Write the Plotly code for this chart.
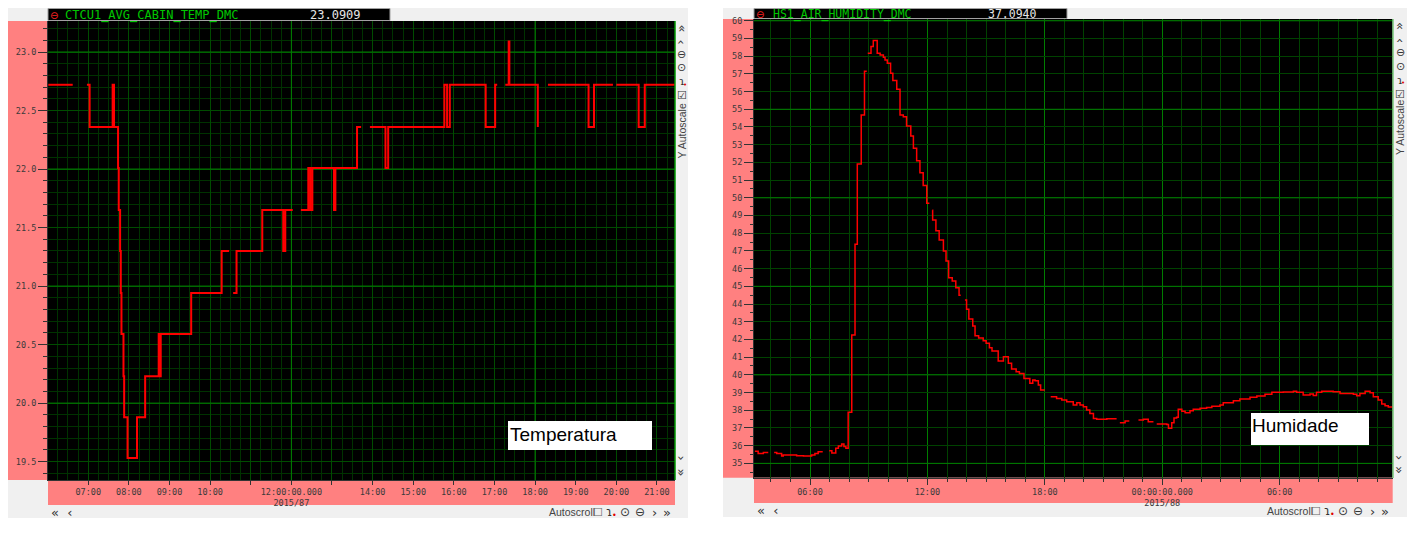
import plotly.graph_objects as go

OFF = 8                      # browser body margin
W, H = 1404, 522             # figure size so the page fits the 1420x538 window
def fx(p): return (p - OFF) / W
def fy(p): return 1 - (p - OFF) / H

# ------------------------------------------------------------------ data
temp_label, temp_current = "CTCU1_AVG_CABIN_TEMP_DMC", "23.0909"
hum_label, hum_current = "HS1_AIR_HUMIDITY_DMC", "37.0940"

temp_day = "2015-03-28 "
temp_time = ["06:01", "06:37", "06:37", "06:58", "07:02", "07:36", "07:38", "07:44", "07:45",
             "07:47", "07:48", "07:49", "07:52", "07:53", "07:58", "08:12", "08:24", "08:44",
             "08:46", "08:47", "09:32", "10:17", "10:28", "10:28", "10:34", "10:39", "11:17",
             "11:48", "11:51", "12:02", "12:02", "12:14", "12:25", "12:28", "12:31", "13:03",
             "13:05", "13:37", "13:43", "13:43", "13:56", "14:19", "14:23", "15:46", "15:50",
             "15:54", "16:47", "17:01", "17:04", "17:04", "17:16", "17:21", "17:22", "18:04",
             "18:04", "18:19", "19:19", "19:27", "19:55", "19:55", "20:00", "20:33", "20:42",
             "21:27"]
temp_value = [22.72, 22.72, None, 22.72, 22.36, 22.72, 22.36, 22.01, 21.65,
              21.30, 20.94, 20.59, 20.23, 19.88, 19.53, 19.88, 20.23, 20.59,
              20.23, 20.59, 20.94, 21.30, 21.30, None, 20.94, 21.30, 21.65,
              21.30, 21.65, 21.65, None, 21.65, 22.01, 21.65, 22.01, 21.65,
              22.01, 22.36, 22.36, None, 22.36, 22.01, 22.36, 22.72, 22.36,
              22.72, 22.36, 22.72, 22.72, None, 22.72, 23.09, 22.72, 22.36,
              None, 22.72, 22.36, 22.72, 22.72, None, 22.72, 22.36, 22.72,
              22.72]

hum_time = [
    "2015-03-28 03:11", "2015-03-28 03:21", "2015-03-28 03:37", "2015-03-28 03:52", "2015-03-28 03:52",
    "2015-03-28 04:10", "2015-03-28 04:18", "2015-03-28 04:33", "2015-03-28 04:38", "2015-03-28 05:19",
    "2015-03-28 05:40", "2015-03-28 06:05", "2015-03-28 06:15", "2015-03-28 06:25", "2015-03-28 06:39",
    "2015-03-28 06:39", "2015-03-28 06:59", "2015-03-28 07:07", "2015-03-28 07:19", "2015-03-28 07:27",
    "2015-03-28 07:37", "2015-03-28 07:44", "2015-03-28 07:50", "2015-03-28 07:57", "2015-03-28 08:08",
    "2015-03-28 08:18", "2015-03-28 08:25", "2015-03-28 08:37", "2015-03-28 08:47", "2015-03-28 08:54",
    "2015-03-28 08:54", "2015-03-28 08:57", "2015-03-28 09:07", "2015-03-28 09:14", "2015-03-28 09:26",
    "2015-03-28 09:35", "2015-03-28 09:45", "2015-03-28 09:50", "2015-03-28 09:57", "2015-03-28 10:07",
    "2015-03-28 10:14", "2015-03-28 10:26", "2015-03-28 10:36", "2015-03-28 10:46", "2015-03-28 10:56",
    "2015-03-28 11:09", "2015-03-28 11:17", "2015-03-28 11:27", "2015-03-28 11:37", "2015-03-28 11:47",
    "2015-03-28 11:58", "2015-03-28 12:06", "2015-03-28 12:06", "2015-03-28 12:15", "2015-03-28 12:16",
    "2015-03-28 12:26", "2015-03-28 12:36", "2015-03-28 12:49", "2015-03-28 12:57", "2015-03-28 13:05",
    "2015-03-28 13:16", "2015-03-28 13:27", "2015-03-28 13:37", "2015-03-28 13:42", "2015-03-28 13:42",
    "2015-03-28 13:55", "2015-03-28 14:00", "2015-03-28 14:07", "2015-03-28 14:19", "2015-03-28 14:26",
    "2015-03-28 14:37", "2015-03-28 14:51", "2015-03-28 15:00", "2015-03-28 15:10", "2015-03-28 15:18",
    "2015-03-28 15:37", "2015-03-28 15:53", "2015-03-28 16:08", "2015-03-28 16:18", "2015-03-28 16:32",
    "2015-03-28 16:42", "2015-03-28 16:56", "2015-03-28 17:14", "2015-03-28 17:23", "2015-03-28 17:30",
    "2015-03-28 17:40", "2015-03-28 17:47", "2015-03-28 18:00", "2015-03-28 18:00", "2015-03-28 18:18",
    "2015-03-28 18:36", "2015-03-28 18:52", "2015-03-28 19:07", "2015-03-28 19:27", "2015-03-28 19:38",
    "2015-03-28 19:48", "2015-03-28 19:58", "2015-03-28 20:08", "2015-03-28 20:18", "2015-03-28 20:29",
    "2015-03-28 20:39", "2015-03-28 21:10", "2015-03-28 21:40", "2015-03-28 21:40", "2015-03-28 21:50",
    "2015-03-28 22:06", "2015-03-28 22:19", "2015-03-28 22:19", "2015-03-28 22:47", "2015-03-28 23:02",
    "2015-03-28 23:17", "2015-03-28 23:33", "2015-03-28 23:33", "2015-03-28 23:43", "2015-03-29 00:14",
    "2015-03-29 00:19", "2015-03-29 00:29", "2015-03-29 00:36", "2015-03-29 00:44", "2015-03-29 00:49",
    "2015-03-29 01:00", "2015-03-29 01:10", "2015-03-29 01:25", "2015-03-29 01:35", "2015-03-29 01:56",
    "2015-03-29 02:16", "2015-03-29 02:32", "2015-03-29 02:57", "2015-03-29 03:07", "2015-03-29 03:38",
    "2015-03-29 03:58", "2015-03-29 04:29", "2015-03-29 04:50", "2015-03-29 05:15", "2015-03-29 05:36",
    "2015-03-29 06:11", "2015-03-29 06:42", "2015-03-29 06:52", "2015-03-29 07:12", "2015-03-29 07:33",
    "2015-03-29 07:43", "2015-03-29 07:53", "2015-03-29 08:09", "2015-03-29 08:44", "2015-03-29 09:05",
    "2015-03-29 09:46", "2015-03-29 09:56", "2015-03-29 10:06", "2015-03-29 10:22", "2015-03-29 10:37",
    "2015-03-29 10:47", "2015-03-29 11:02", "2015-03-29 11:13", "2015-03-29 11:23", "2015-03-29 11:33",
    "2015-03-29 11:47"]
hum_value = [
    35.69, 35.56, 35.62, 35.62, None,
    35.62, 35.56, 35.41, 35.47, 35.43,
    35.41, 35.47, 35.55, 35.66, 35.66,
    None, 35.71, 35.58, 35.85, 35.98,
    36.09, 35.95, 35.85, 37.88, 42.25,
    47.37, 51.91, 54.68, 57.15, 57.15,
    None, 58.16, 58.54, 58.88, 58.16,
    58.07, 57.94, 57.79, 57.60, 57.03,
    56.62, 56.13, 54.68, 54.58, 54.06,
    53.49, 52.80, 52.10, 51.42, 50.70,
    49.69, 49.69, None, 49.30, 48.75,
    48.14, 47.62, 47.00, 46.43, 45.49,
    45.30, 44.92, 44.50, 44.50, None,
    44.23, 43.70, 43.15, 42.76, 42.21,
    42.08, 41.93, 41.78, 41.53, 41.35,
    40.78, 41.02, 40.65, 40.33, 40.18,
    40.08, 39.80, 39.52, 39.71, 39.67,
    39.42, 39.14, 39.14, None, 38.76,
    38.67, 38.58, 38.48, 38.29, 38.43,
    38.29, 38.20, 38.01, 37.82, 37.54,
    37.49, 37.52, 37.52, None, 37.30,
    37.39, 37.39, None, 37.45, 37.49,
    37.35, 37.35, None, 37.22, 37.20,
    36.98, 37.30, 37.56, 37.60, 38.05,
    37.95, 37.86, 37.97, 38.05, 38.11,
    38.16, 38.22, 38.30, 38.43, 38.54,
    38.63, 38.73, 38.80, 38.90, 39.01,
    39.03, 39.08, 39.01, 38.86, 38.92,
    38.84, 39.01, 39.08, 39.05, 38.95,
    38.90, 38.82, 38.95, 39.08, 38.99,
    38.76, 38.58, 38.35, 38.25, 38.18,
    38.18]

temp_xticks = ["07:00", "08:00", "09:00", "10:00", "11:00", "12:00", "13:00", "14:00",
               "15:00", "16:00", "17:00", "18:00", "19:00", "20:00", "21:00"]
temp_xticktext = ["07:00", "08:00", "09:00", "10:00", "", "12:00:00.000<br>2015/87", "", "14:00",
                  "15:00", "16:00", "17:00", "18:00", "19:00", "20:00", "21:00"]
temp_xrange = ["2015-03-28 06:00:30", "2015-03-28 21:26:40"]
temp_yrange = [19.343, 23.265]
temp_bright_x = ["12:00", "18:00"]
temp_bright_y = [20.0, 21.0, 22.0, 23.0]

hum_xticks = ["2015-03-28 06:00", "2015-03-28 12:00", "2015-03-28 18:00",
              "2015-03-29 00:00", "2015-03-29 06:00"]
hum_xticktext = ["06:00", "12:00", "18:00", "00:00:00.000<br>2015/88", "06:00"]
hum_xrange = ["2015-03-28 03:08:17", "2015-03-29 11:46:30"]
hum_yrange = [34.19, 60.1]
hum_bright_y = [35, 40, 45, 50, 55, 60]

# ------------------------------------------------------------------ styles
PINK = "#ff8080"
PANEL = "#f0f0f0"
G_DARK = "rgb(0,50,0)"
G_MED = "rgb(0,76,0)"
G_BRIGHT = "rgb(0,125,0)"
G_HOUR = "rgb(0,66,0)"
TICKC = "#333333"
MONO = "DejaVu Sans Mono"
SANS = "Liberation Sans"
tickfont = dict(family=MONO, size=8.5, color="#3a3a3a")

L = dict(x0=48, x1=675, y0=21, y1=480)
R = dict(x0=754, x1=1392.7, y0=19, y1=477.7)

fig = go.Figure()
fig.add_trace(go.Scatter(
    x=[temp_day + t for t in temp_time], y=temp_value, mode="lines",
    line=dict(color="#ff0000", width=2, shape="hv"), connectgaps=False,
    xaxis="x", yaxis="y", hoverinfo="skip"))
fig.add_trace(go.Scatter(
    x=hum_time, y=hum_value, mode="lines",
    line=dict(color="#ff0000", width=1.5, shape="hv"), connectgaps=False,
    xaxis="x2", yaxis="y2", hoverinfo="skip"))

shapes = []
def prect(x0, y0, x1, y1, fill, line=None, layer="below", lw=0):
    shapes.append(dict(type="rect", xref="paper", yref="paper",
                       x0=fx(x0), x1=fx(x1), y0=fy(y1), y1=fy(y0),
                       fillcolor=fill, line=dict(color=line or fill, width=lw), layer=layer))

# panels
prect(5, 6, 688, 518, PANEL)
prect(723, 5, 1407, 517, PANEL)
# plot areas
prect(L["x0"], L["y0"], L["x1"], L["y1"], "#000000")
prect(R["x0"], R["y0"], R["x1"], R["y1"], "#000000")
# pink axis bands
prect(5, L["y0"], L["x0"], L["y1"], PINK)
prect(L["x0"], L["y1"], L["x1"], 505, PINK)
prect(723, R["y0"], R["x0"], R["y1"], PINK)
prect(R["x0"], R["y1"], R["x1"], 503, PINK)
# title bars
prect(48, 8.5, 390, 20.5, "#000000", line="#a0a0a0", lw=1)
prect(754, 8.5, 1067, 18.5, "#000000", line="#a0a0a0", lw=1)

# bright grid lines (between grid and traces)
for t in temp_bright_x:
    shapes.append(dict(type="line", xref="x", yref="y", x0=temp_day + t, x1=temp_day + t,
                       y0=temp_yrange[0], y1=temp_yrange[1],
                       line=dict(color=G_BRIGHT, width=1), layer="between"))
for v in temp_bright_y:
    shapes.append(dict(type="line", xref="x", yref="y", x0=temp_xrange[0], x1=temp_xrange[1],
                       y0=v, y1=v, line=dict(color=G_BRIGHT, width=1), layer="between"))
for v in hum_bright_y:
    shapes.append(dict(type="line", xref="x2", yref="y2", x0=hum_xrange[0], x1=hum_xrange[1],
                       y0=v, y1=v, line=dict(color=G_BRIGHT, width=1), layer="between"))

# right borders of plot areas
shapes.append(dict(type="line", xref="paper", yref="paper", x0=fx(675), x1=fx(675),
                   y0=fy(480), y1=fy(21), line=dict(color="rgb(0,150,0)", width=1.5), layer="above"))
shapes.append(dict(type="line", xref="paper", yref="paper", x0=fx(1393), x1=fx(1393),
                   y0=fy(478), y1=fy(19), line=dict(color="rgb(120,200,120)", width=1.5), layer="above"))

# white label boxes
prect(508, 421, 652, 450, "#ffffff", layer="above")
prect(1251, 413, 1369, 445, "#ffffff", layer="above")

annotations = []
def ann(x, y, text, size=11, color="#333", family=SANS, xanchor="left", angle=0):
    annotations.append(dict(x=fx(x), y=fy(y), xref="paper", yref="paper", text=text,
                            showarrow=False, xanchor=xanchor, yanchor="middle", borderpad=0,
                            textangle=angle, font=dict(family=family, size=size, color=color)))

def bar_text(s):
    return s.replace("_", "<b>_</b>")

# title bars
ann(48.5, 15, "⊖", 10, "#ff2020", "DejaVu Sans")
ann(64, 15, bar_text(temp_label), 12, "#00c800", MONO)
ann(309, 15, temp_current, 12, "#e6e6e6", MONO)
ann(755, 14.5, "⊖", 10, "#ff2020", "DejaVu Sans")
ann(772, 14.5, bar_text(hum_label), 11.5, "#00c800", MONO)
ann(987, 14.5, hum_current, 11.5, "#e6e6e6", MONO)

# text boxes
ann(509, 434, "Temperatura", 19, "#000000", SANS)
ann(1251, 425, "Humidade", 19, "#000000", SANS)

# bottom controls
for x0, y0, xa, ya in [(50, 512, 548, 512), (756, 510, 1266, 511)]:
    ann(x0, y0, "«  ‹", 13, "#333", "DejaVu Sans")
    ann(xa, ya, "Autoscroll", 10.5, "#444", SANS)
    ann(xa + 44, ya, "☐", 11, "#666", "DejaVu Sans")
    ann(xa + 57, ya, "ɿ", 12, "#333", "DejaVu Sans")
    ann(xa + 63, ya + 3, "•", 8, "#e00000", "DejaVu Sans")
    ann(xa + 71, ya, "⊙", 12, "#333", "DejaVu Sans")
    ann(xa + 86, ya, "⊖", 12, "#333", "DejaVu Sans")
    ann(xa + 103, ya, "›", 13, "#333", "DejaVu Sans")
    ann(xa + 114, ya, "»", 13, "#333", "DejaVu Sans")

# right control strips
for xc, ys in [(681.5, (28, 42, 55, 68, 82, 96, 131, 458, 472)),
               (1400, (26, 40, 52, 66, 80, 95, 128, 457, 470))]:
    ann(xc, ys[0], "«", 13, "#333", "DejaVu Sans", "center", 90)
    ann(xc, ys[1], "‹", 13, "#333", "DejaVu Sans", "center", 90)
    ann(xc, ys[2], "⊖", 11, "#333", "DejaVu Sans", "center")
    ann(xc, ys[3], "⊙", 11, "#333", "DejaVu Sans", "center")
    ann(xc, ys[4], "ɿ", 11, "#333", "DejaVu Sans", "center")
    ann(xc + 3, ys[4] + 3, "•", 7, "#e00000", "DejaVu Sans", "center")
    ann(xc, ys[5], "☑", 11, "#333", "DejaVu Sans", "center")
    ann(xc, ys[6], "Y Autoscale", 10.5, "#444", SANS, "center", -90)
    ann(xc, ys[7], "›", 13, "#333", "DejaVu Sans", "center", 90)
    ann(xc, ys[8], "»", 13, "#333", "DejaVu Sans", "center", 90)

fig.update_layout(
    width=W, height=H, autosize=False,
    margin=dict(l=0, r=0, t=0, b=0),
    paper_bgcolor="#ffffff", plot_bgcolor="#000000",
    showlegend=False, shapes=shapes, annotations=annotations,
    xaxis=dict(domain=[fx(L["x0"]), fx(L["x1"])], anchor="y", type="date",
               range=temp_xrange, tickmode="array",
               tickvals=[temp_day + t for t in temp_xticks], ticktext=temp_xticktext,
               ticks="outside", ticklen=4, tickcolor=TICKC, tickfont=tickfont,
               showgrid=True, gridcolor=G_MED, gridwidth=1,
               minor=dict(tickmode="linear", tick0="2015-03-28 00:00", dtick=15 * 60 * 1000,
                          showgrid=True, gridcolor=G_DARK, ticks=""),
               showline=True, linecolor=TICKC, linewidth=1, zeroline=False,
               automargin=False, fixedrange=True),
    yaxis=dict(domain=[fy(L["y1"]), fy(L["y0"])], anchor="x", range=temp_yrange,
               tickmode="linear", tick0=19.5, dtick=0.5, tickformat=".1f",
               ticks="outside", ticklen=9, tickcolor=TICKC, tickfont=tickfont,
               showgrid=True, gridcolor=G_MED,
               minor=dict(tickmode="linear", tick0=19.5, dtick=0.1, ticks="outside", ticklen=4,
                          tickcolor=TICKC, showgrid=True, gridcolor=G_DARK),
               showline=True, linecolor=TICKC, zeroline=False, automargin=False, fixedrange=True),
    xaxis2=dict(domain=[fx(R["x0"]), fx(R["x1"])], anchor="y2", type="date",
                range=hum_xrange, tickmode="array", tickvals=hum_xticks, ticktext=hum_xticktext,
                ticks="outside", ticklen=6, tickcolor=TICKC, tickfont=tickfont,
                showgrid=True, gridcolor=G_BRIGHT,
                minor=dict(tickmode="linear", tick0="2015-03-28 00:00", dtick=3600 * 1000,
                           ticks="outside", ticklen=3, tickcolor=TICKC,
                           showgrid=True, gridcolor=G_HOUR),
                showline=True, linecolor=TICKC, zeroline=False, automargin=False, fixedrange=True),
    yaxis2=dict(domain=[fy(R["y1"]), fy(R["y0"])], anchor="x2", range=hum_yrange,
                tickmode="linear", tick0=35, dtick=1,
                ticks="outside", ticklen=9, tickcolor=TICKC, tickfont=tickfont,
                showgrid=True, gridcolor=G_HOUR,
                minor=dict(tickmode="linear", tick0=35, dtick=0.5, ticks="outside", ticklen=3,
                           tickcolor=TICKC, showgrid=False),
                showline=True, linecolor=TICKC, zeroline=False, automargin=False, fixedrange=True),
)

fig.write_html("out.html")
